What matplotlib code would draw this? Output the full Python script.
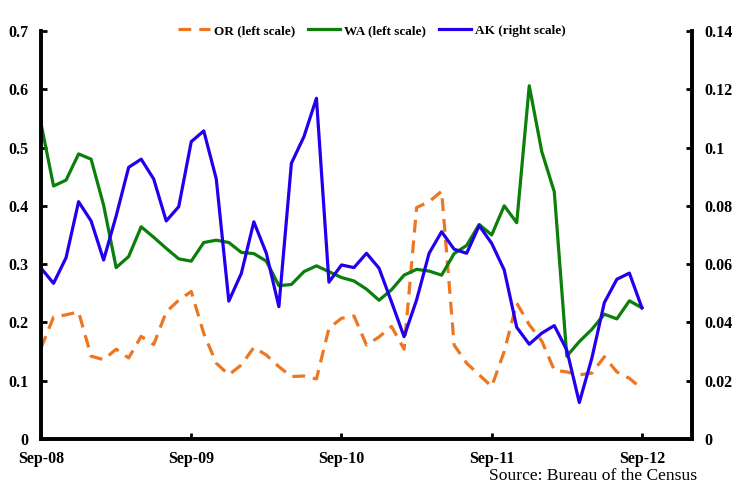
import numpy as np
import matplotlib.pyplot as plt

# monthly values, Sep-08 .. Sep-12
OR = [0.156, 0.209, 0.213, 0.218, 0.142, 0.136, 0.154, 0.139, 0.176, 0.162,
      0.218, 0.238, 0.253, 0.181, 0.130, 0.110, 0.127, 0.157, 0.144, 0.124,
      0.107, 0.108, 0.103, 0.190, 0.207, 0.211, 0.161, 0.175, 0.193, 0.154,
      0.397, 0.407, 0.425, 0.161, 0.130, 0.110, 0.090, 0.150, 0.233, 0.196,
      0.168, 0.118, 0.115, 0.110, 0.113, 0.141, 0.115, 0.104, 0.086]
WA = [0.541, 0.434, 0.444, 0.489, 0.480, 0.401, 0.294, 0.313, 0.364, 0.346,
      0.327, 0.309, 0.305, 0.337, 0.341, 0.337, 0.320, 0.318, 0.305, 0.263,
      0.265, 0.287, 0.297, 0.287, 0.277, 0.271, 0.257, 0.238, 0.256, 0.281,
      0.291, 0.288, 0.281, 0.318, 0.332, 0.368, 0.350, 0.400, 0.371, 0.606,
      0.493, 0.424, 0.142, 0.167, 0.188, 0.214, 0.206, 0.237, 0.225]
AK = [0.0586, 0.0534, 0.0622, 0.0814, 0.0748, 0.0614, 0.0765, 0.0932, 0.0960, 0.0892,
      0.0748, 0.0797, 0.1020, 0.1057, 0.0892, 0.0473, 0.0568, 0.0745, 0.0637, 0.0454,
      0.0946, 0.1037, 0.1169, 0.0538, 0.0597, 0.0588, 0.0637, 0.0586, 0.0470, 0.0351,
      0.0477, 0.0637, 0.0711, 0.0651, 0.0637, 0.0732, 0.0671, 0.0580, 0.0383, 0.0325,
      0.0363, 0.0389, 0.0305, 0.0125, 0.0277, 0.0468, 0.0548, 0.0569, 0.0450]

year_ticks = [0, 12, 24, 36, 48]
year_labels = ['Sep-08', 'Sep-09', 'Sep-10', 'Sep-11', 'Sep-12']

plt.rcParams['font.family'] = ['Liberation Serif', 'DejaVu Serif']

c_or = '#ED7620'
c_wa = '#0A7F0A'
c_ak = '#2200EE'

x = np.arange(len(OR))

fig = plt.figure(figsize=(7.46, 4.91), dpi=100)
ax = fig.add_axes([0.055, 0.106, 0.8726, 0.831])
ax2 = ax.twinx()

l1, = ax.plot(x, OR, color=c_or, lw=2.3, dashes=(4, 2.5), label='OR (left scale)')
l2, = ax.plot(x, WA, color=c_wa, lw=2.3, label='WA (left scale)')
l3, = ax2.plot(x, AK, color=c_ak, lw=2.3, label='AK (right scale)')

ax.set_xlim(0, 52)
ax.set_ylim(0, 0.7)
ax2.set_ylim(0, 0.14)
ax.set_yticks(np.arange(0, 0.71, 0.1))
ax.set_yticklabels(['0', '0.1', '0.2', '0.3', '0.4', '0.5', '0.6', '0.7'])
ax2.set_yticks(np.arange(0, 0.141, 0.02))
ax2.set_yticklabels(['0', '0.02', '0.04', '0.06', '0.08', '0.1', '0.12', '0.14'])
ax.set_xticks(year_ticks)
ax.set_xticklabels(year_labels)

for a in (ax, ax2):
    a.spines['top'].set_visible(False)
    for s in ('left', 'right', 'bottom'):
        a.spines[s].set_linewidth(2.6)
    a.tick_params(direction='in', width=2, length=4, labelsize=11.5)
    a.tick_params(axis='y', pad=9)
    a.tick_params(axis='x', pad=9)
    for lab in a.get_xticklabels() + a.get_yticklabels():
        lab.set_fontweight('bold')

leg = ax.legend(handles=[l1, l2, l3], loc='center', bbox_to_anchor=(0.508, 1.0),
                ncol=3, frameon=False, handlelength=2.4,
                columnspacing=1.0, handletextpad=0.3, prop={'weight': 'bold', 'size': 9.5})

fig.text(0.935, 0.031, 'Source: Bureau of the Census', ha='right', va='center', fontsize=12.6)

plt.savefig('out.png', dpi=100)
